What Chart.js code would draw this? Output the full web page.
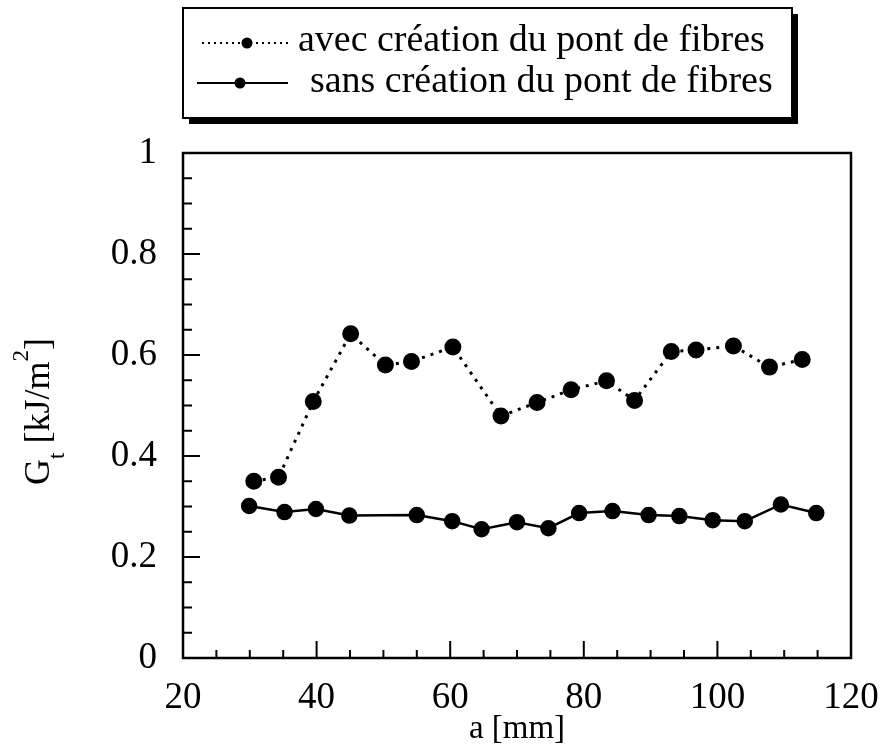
<!DOCTYPE html>
<html>
<head>
<meta charset="utf-8">
<script src="https://cdn.jsdelivr.net/npm/chart.js@4/dist/chart.umd.min.js"></script>
<style>
  body { margin: 0; background: #fff; }
  #wrap { width: 886px; height: 753px; }
</style>
</head>
<body>
<div id="wrap"><canvas id="myChart"></canvas></div>
<script>
// values
const xAvec = [30.6, 34.3, 39.5, 45.1, 50.3, 54.2, 60.4, 67.6, 73.0, 78.1, 83.4, 87.6, 93.1, 96.8, 102.4, 107.8, 112.7];
const yAvec = [0.350, 0.358, 0.508, 0.642, 0.580, 0.587, 0.616, 0.479, 0.506, 0.531, 0.549, 0.510, 0.607, 0.610, 0.618, 0.576, 0.591];
const xSans = [29.9, 35.2, 39.9, 44.9, 55.0, 60.3, 64.7, 70.0, 74.7, 79.3, 84.3, 89.7, 94.3, 99.3, 104.1, 109.5, 114.8];
const ySans = [0.301, 0.289, 0.295, 0.282, 0.283, 0.271, 0.255, 0.269, 0.257, 0.287, 0.291, 0.283, 0.281, 0.273, 0.271, 0.304, 0.287];
const seriesLabels = ["avec création du pont de fibres", "sans création du pont de fibres"];
const yTickLabels = ["0", "0.2", "0.4", "0.6", "0.8", "1"];
const xTitle = "a [mm]";

const serif = "'Liberation Serif', 'Times New Roman', serif";
Chart.defaults.font.family = serif;
Chart.defaults.color = "#000";

function pts(xs, ys) {
  return xs.map((x, i) => ({ x: x, y: ys[i] }));
}

// frame, inside ticks, boxed legend and the G_t title
const decor = {
  id: "decor",
  afterDraw(chart) {
    const ctx = chart.ctx;
    const a = chart.chartArea;
    const xs = chart.scales.x, ys = chart.scales.y;
    ctx.save();
    ctx.strokeStyle = "#000";
    ctx.lineWidth = 2.5;
    ctx.strokeRect(a.left, a.top, a.right - a.left, a.bottom - a.top);

    ctx.lineWidth = 2;
    ctx.beginPath();
    for (let v = 0; v <= 1.0001; v += 0.05) {
      const py = ys.getPixelForValue(v);
      const major = Math.abs(v * 5 - Math.round(v * 5)) < 0.001;
      ctx.moveTo(a.left, py);
      ctx.lineTo(a.left + (major ? 17 : 9), py);
    }
    for (let v = 25; v < 120; v += 5) {
      const px = xs.getPixelForValue(v);
      ctx.moveTo(px, a.bottom);
      ctx.lineTo(px, a.bottom - (v % 20 === 0 ? 17 : 8));
    }
    ctx.stroke();

    // legend box with shadow
    const bx = 183, by = 8, bw = 609, bh = 110;
    ctx.fillStyle = "#000";
    ctx.fillRect(bx + 6, by + 6, bw, bh);
    ctx.fillStyle = "#fff";
    ctx.fillRect(bx, by, bw, bh);
    ctx.lineWidth = 2;
    ctx.strokeRect(bx, by, bw, bh);

    const ds = chart.data.datasets;
    ctx.font = "100px " + serif;
    const fs = 467 / ctx.measureText(ds[0].label).width * 100;
    ctx.font = fs + "px " + serif;
    ctx.fillStyle = "#000";
    ctx.textBaseline = "alphabetic";
    ctx.textAlign = "left";
    ctx.fillText(ds[0].label, 298, 51);
    ctx.fillText(ds[1].label, 310, 92);

    ctx.lineWidth = 2;
    ctx.setLineDash([2, 4]);
    ctx.beginPath();
    ctx.moveTo(202, 43); ctx.lineTo(292, 43);
    ctx.stroke();
    ctx.setLineDash([]);
    ctx.beginPath();
    ctx.moveTo(197, 83); ctx.lineTo(288, 83);
    ctx.stroke();
    ctx.beginPath();
    ctx.arc(247, 43, 5.5, 0, Math.PI * 2);
    ctx.arc(240, 83, 5.5, 0, Math.PI * 2);
    ctx.fill();

    // y title, rotated, with subscript and superscript
    ctx.translate(49, 485);
    ctx.rotate(-Math.PI / 2);
    let x = 0;
    const big = "36px " + serif, small = "23px " + serif;
    ctx.font = big; ctx.fillText("G", x, 0); x += ctx.measureText("G").width;
    ctx.font = small; ctx.fillText("t", x, 15); x += ctx.measureText("t").width;
    ctx.font = big; ctx.fillText(" [kJ/m", x, 0); x += ctx.measureText(" [kJ/m").width;
    ctx.font = small; ctx.fillText("2", x, -21); x += ctx.measureText("2").width;
    ctx.font = big; ctx.fillText("]", x, 0);
    ctx.restore();
  }
};

new Chart(document.getElementById("myChart"), {
  type: "line",
  data: {
    datasets: [
      {
        label: seriesLabels[0],
        data: pts(xAvec, yAvec),
        borderColor: "#000",
        backgroundColor: "#000",
        borderWidth: 3,
        borderDash: [3, 6],
        pointRadius: 7,
        pointHoverRadius: 7,
        tension: 0
      },
      {
        label: seriesLabels[1],
        data: pts(xSans, ySans),
        borderColor: "#000",
        backgroundColor: "#000",
        borderWidth: 2.5,
        pointRadius: 7,
        pointHoverRadius: 7,
        tension: 0
      }
    ]
  },
  options: {
    responsive: true,
    maintainAspectRatio: false,
    animation: false,
    layout: { padding: { left: 0, right: 35, top: 153, bottom: 0 } },
    plugins: { legend: { display: false }, tooltip: { enabled: false } },
    scales: {
      x: {
        type: "linear",
        min: 20,
        max: 120,
        grid: { display: false, drawTicks: false },
        border: { display: false },
        ticks: { stepSize: 20, padding: 18, font: { size: 37 } },
        title: { display: true, text: xTitle, font: { size: 33 }, padding: { top: 0, bottom: 4 } },
        afterFit(s) { s.height = 95; s.paddingLeft = 0; s.paddingRight = 0; }
      },
      y: {
        min: 0,
        max: 1,
        grid: { display: false, drawTicks: false },
        border: { display: false },
        ticks: {
          stepSize: 0.2,
          padding: 26,
          font: { size: 37 },
          callback: (v) => yTickLabels[Math.round(v * 5)]
        },
        afterFit(s) { s.width = 183; s.paddingTop = 0; s.paddingBottom = 0; }
      }
    }
  },
  plugins: [decor]
});
</script>
</body>
</html>
